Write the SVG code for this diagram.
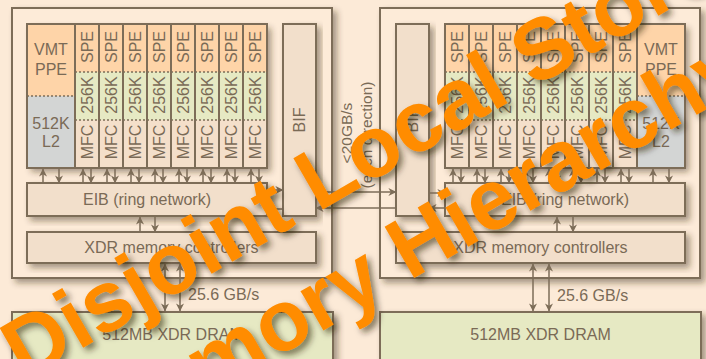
<svg xmlns="http://www.w3.org/2000/svg" width="706" height="359" viewBox="0 0 706 359">
<defs>
<style>
.bx{stroke:#7d6d58;stroke-width:2}
.ln{stroke:#7d6d58;stroke-width:1.5;fill:none}
.dt{stroke:#7d6d58;stroke-width:1.5;stroke-dasharray:2 2}
.t{font-family:"Liberation Sans",Arial,sans-serif;font-size:16px;fill:#7a6a56;text-anchor:middle}
.or{fill:#fed4a8}.gr{fill:#e6e9c3}.be{fill:#f4dfca}.l2{fill:#d3d5d4}.pl{fill:#f2dfcb}.ch{fill:#fdebd8}
.wm{font-family:"Liberation Sans",Arial,sans-serif;font-size:86px;font-weight:bold;fill:#ff8c00;text-anchor:middle}
</style>
<filter id="sh" x="-10%" y="-10%" width="130%" height="140%"><feDropShadow dx="4" dy="4" stdDeviation="3" flood-color="#3b2a14" flood-opacity="0.45"/></filter>
<filter id="tsh" x="-10%" y="-10%" width="130%" height="140%"><feDropShadow dx="4" dy="4" stdDeviation="3" flood-color="#2a1a05" flood-opacity="0.55"/></filter>
<marker id="ah" viewBox="0 0 10 10" refX="9.5" refY="5" markerWidth="8" markerHeight="8" markerUnits="userSpaceOnUse" orient="auto-start-reverse"><path d="M0,0 L10,5 L0,10 L3,5 z" fill="#7d6d58"/></marker>
</defs>
<rect width="706" height="359" fill="#fcead7"/>

<!-- LEFT CHIP -->
<g id="chipL"><rect class="bx ch" x="12" y="8" width="320" height="270" filter="url(#sh)"/></g>
<rect x="27" y="24" width="240" height="144" fill="#f4dfca" filter="url(#sh)"/>
<g id="ppeL">
<rect class="or" x="27" y="24" width="48" height="72"/><rect class="l2" x="27" y="96" width="48" height="72"/>
<line class="dt" x1="27" y1="96" x2="75" y2="96"/>
<rect class="bx" x="27" y="24" width="48" height="144" fill="none"/>
<text class="t" x="51" y="55">VMT</text><text class="t" x="51" y="75">PPE</text>
<text class="t" x="51" y="129">512K</text><text class="t" x="51" y="147">L2</text>
</g>
<g id="speL1"><rect class="or" x="75" y="24" width="24" height="48"/><rect class="gr" x="75" y="72" width="24" height="48"/><rect class="be" x="75" y="120" width="24" height="48"/><line class="dt" x1="75" y1="72" x2="99" y2="72"/><line class="dt" x1="75" y1="120" x2="99" y2="120"/><rect class="bx" x="75" y="24" width="24" height="144" fill="none"/><text class="t" transform="translate(93,47) rotate(-90)">SPE</text><text class="t" transform="translate(93,95) rotate(-90)">256K</text><text class="t" transform="translate(93,142) rotate(-90)">MFC</text></g>
<g id="speL2"><rect class="or" x="99" y="24" width="24" height="48"/><rect class="gr" x="99" y="72" width="24" height="48"/><rect class="be" x="99" y="120" width="24" height="48"/><line class="dt" x1="99" y1="72" x2="123" y2="72"/><line class="dt" x1="99" y1="120" x2="123" y2="120"/><rect class="bx" x="99" y="24" width="24" height="144" fill="none"/><text class="t" transform="translate(117,47) rotate(-90)">SPE</text><text class="t" transform="translate(117,95) rotate(-90)">256K</text><text class="t" transform="translate(117,142) rotate(-90)">MFC</text></g>
<g id="speL3"><rect class="or" x="123" y="24" width="24" height="48"/><rect class="gr" x="123" y="72" width="24" height="48"/><rect class="be" x="123" y="120" width="24" height="48"/><line class="dt" x1="123" y1="72" x2="147" y2="72"/><line class="dt" x1="123" y1="120" x2="147" y2="120"/><rect class="bx" x="123" y="24" width="24" height="144" fill="none"/><text class="t" transform="translate(141,47) rotate(-90)">SPE</text><text class="t" transform="translate(141,95) rotate(-90)">256K</text><text class="t" transform="translate(141,142) rotate(-90)">MFC</text></g>
<g id="speL4"><rect class="or" x="147" y="24" width="24" height="48"/><rect class="gr" x="147" y="72" width="24" height="48"/><rect class="be" x="147" y="120" width="24" height="48"/><line class="dt" x1="147" y1="72" x2="171" y2="72"/><line class="dt" x1="147" y1="120" x2="171" y2="120"/><rect class="bx" x="147" y="24" width="24" height="144" fill="none"/><text class="t" transform="translate(165,47) rotate(-90)">SPE</text><text class="t" transform="translate(165,95) rotate(-90)">256K</text><text class="t" transform="translate(165,142) rotate(-90)">MFC</text></g>
<g id="speL5"><rect class="or" x="171" y="24" width="24" height="48"/><rect class="gr" x="171" y="72" width="24" height="48"/><rect class="be" x="171" y="120" width="24" height="48"/><line class="dt" x1="171" y1="72" x2="195" y2="72"/><line class="dt" x1="171" y1="120" x2="195" y2="120"/><rect class="bx" x="171" y="24" width="24" height="144" fill="none"/><text class="t" transform="translate(189,47) rotate(-90)">SPE</text><text class="t" transform="translate(189,95) rotate(-90)">256K</text><text class="t" transform="translate(189,142) rotate(-90)">MFC</text></g>
<g id="speL6"><rect class="or" x="195" y="24" width="24" height="48"/><rect class="gr" x="195" y="72" width="24" height="48"/><rect class="be" x="195" y="120" width="24" height="48"/><line class="dt" x1="195" y1="72" x2="219" y2="72"/><line class="dt" x1="195" y1="120" x2="219" y2="120"/><rect class="bx" x="195" y="24" width="24" height="144" fill="none"/><text class="t" transform="translate(213,47) rotate(-90)">SPE</text><text class="t" transform="translate(213,95) rotate(-90)">256K</text><text class="t" transform="translate(213,142) rotate(-90)">MFC</text></g>
<g id="speL7"><rect class="or" x="219" y="24" width="24" height="48"/><rect class="gr" x="219" y="72" width="24" height="48"/><rect class="be" x="219" y="120" width="24" height="48"/><line class="dt" x1="219" y1="72" x2="243" y2="72"/><line class="dt" x1="219" y1="120" x2="243" y2="120"/><rect class="bx" x="219" y="24" width="24" height="144" fill="none"/><text class="t" transform="translate(237,47) rotate(-90)">SPE</text><text class="t" transform="translate(237,95) rotate(-90)">256K</text><text class="t" transform="translate(237,142) rotate(-90)">MFC</text></g>
<g id="speL8"><rect class="or" x="243" y="24" width="24" height="48"/><rect class="gr" x="243" y="72" width="24" height="48"/><rect class="be" x="243" y="120" width="24" height="48"/><line class="dt" x1="243" y1="72" x2="267" y2="72"/><line class="dt" x1="243" y1="120" x2="267" y2="120"/><rect class="bx" x="243" y="24" width="24" height="144" fill="none"/><text class="t" transform="translate(261,47) rotate(-90)">SPE</text><text class="t" transform="translate(261,95) rotate(-90)">256K</text><text class="t" transform="translate(261,142) rotate(-90)">MFC</text></g>
<g id="bifL"><rect class="bx pl" x="283" y="24" width="33" height="192" filter="url(#sh)"/><text class="t" transform="translate(305,120) rotate(-90)">BIF</text></g>
<g id="eibL"><rect class="bx pl" x="27" y="183" width="240" height="33" filter="url(#sh)"/><text class="t" x="147" y="205">EIB (ring network)</text></g>
<g id="xdrL"><rect class="bx pl" x="27" y="232" width="289" height="31" filter="url(#sh)"/><text class="t" x="171.5" y="253">XDR memory controllers</text></g>
<g id="dramL"><rect class="bx gr" x="12" y="312" width="321" height="60" filter="url(#sh)"/><text class="t" x="172.5" y="340">512MB XDR DRAM</text></g>

<!-- RIGHT CHIP -->
<g id="chipR"><rect class="bx ch" x="380" y="8" width="320" height="270" filter="url(#sh)"/></g>
<rect x="445" y="24" width="240" height="144" fill="#f4dfca" filter="url(#sh)"/>
<g id="speR1"><rect class="or" x="445" y="24" width="24" height="48"/><rect class="gr" x="445" y="72" width="24" height="48"/><rect class="be" x="445" y="120" width="24" height="48"/><line class="dt" x1="445" y1="72" x2="469" y2="72"/><line class="dt" x1="445" y1="120" x2="469" y2="120"/><rect class="bx" x="445" y="24" width="24" height="144" fill="none"/><text class="t" transform="translate(463,47) rotate(-90)">SPE</text><text class="t" transform="translate(463,95) rotate(-90)">256K</text><text class="t" transform="translate(463,142) rotate(-90)">MFC</text></g>
<g id="speR2"><rect class="or" x="469" y="24" width="24" height="48"/><rect class="gr" x="469" y="72" width="24" height="48"/><rect class="be" x="469" y="120" width="24" height="48"/><line class="dt" x1="469" y1="72" x2="493" y2="72"/><line class="dt" x1="469" y1="120" x2="493" y2="120"/><rect class="bx" x="469" y="24" width="24" height="144" fill="none"/><text class="t" transform="translate(487,47) rotate(-90)">SPE</text><text class="t" transform="translate(487,95) rotate(-90)">256K</text><text class="t" transform="translate(487,142) rotate(-90)">MFC</text></g>
<g id="speR3"><rect class="or" x="493" y="24" width="24" height="48"/><rect class="gr" x="493" y="72" width="24" height="48"/><rect class="be" x="493" y="120" width="24" height="48"/><line class="dt" x1="493" y1="72" x2="517" y2="72"/><line class="dt" x1="493" y1="120" x2="517" y2="120"/><rect class="bx" x="493" y="24" width="24" height="144" fill="none"/><text class="t" transform="translate(511,47) rotate(-90)">SPE</text><text class="t" transform="translate(511,95) rotate(-90)">256K</text><text class="t" transform="translate(511,142) rotate(-90)">MFC</text></g>
<g id="speR4"><rect class="or" x="517" y="24" width="24" height="48"/><rect class="gr" x="517" y="72" width="24" height="48"/><rect class="be" x="517" y="120" width="24" height="48"/><line class="dt" x1="517" y1="72" x2="541" y2="72"/><line class="dt" x1="517" y1="120" x2="541" y2="120"/><rect class="bx" x="517" y="24" width="24" height="144" fill="none"/><text class="t" transform="translate(535,47) rotate(-90)">SPE</text><text class="t" transform="translate(535,95) rotate(-90)">256K</text><text class="t" transform="translate(535,142) rotate(-90)">MFC</text></g>
<g id="speR5"><rect class="or" x="541" y="24" width="24" height="48"/><rect class="gr" x="541" y="72" width="24" height="48"/><rect class="be" x="541" y="120" width="24" height="48"/><line class="dt" x1="541" y1="72" x2="565" y2="72"/><line class="dt" x1="541" y1="120" x2="565" y2="120"/><rect class="bx" x="541" y="24" width="24" height="144" fill="none"/><text class="t" transform="translate(559,47) rotate(-90)">SPE</text><text class="t" transform="translate(559,95) rotate(-90)">256K</text><text class="t" transform="translate(559,142) rotate(-90)">MFC</text></g>
<g id="speR6"><rect class="or" x="565" y="24" width="24" height="48"/><rect class="gr" x="565" y="72" width="24" height="48"/><rect class="be" x="565" y="120" width="24" height="48"/><line class="dt" x1="565" y1="72" x2="589" y2="72"/><line class="dt" x1="565" y1="120" x2="589" y2="120"/><rect class="bx" x="565" y="24" width="24" height="144" fill="none"/><text class="t" transform="translate(583,47) rotate(-90)">SPE</text><text class="t" transform="translate(583,95) rotate(-90)">256K</text><text class="t" transform="translate(583,142) rotate(-90)">MFC</text></g>
<g id="speR7"><rect class="or" x="589" y="24" width="24" height="48"/><rect class="gr" x="589" y="72" width="24" height="48"/><rect class="be" x="589" y="120" width="24" height="48"/><line class="dt" x1="589" y1="72" x2="613" y2="72"/><line class="dt" x1="589" y1="120" x2="613" y2="120"/><rect class="bx" x="589" y="24" width="24" height="144" fill="none"/><text class="t" transform="translate(607,47) rotate(-90)">SPE</text><text class="t" transform="translate(607,95) rotate(-90)">256K</text><text class="t" transform="translate(607,142) rotate(-90)">MFC</text></g>
<g id="speR8"><rect class="or" x="613" y="24" width="24" height="48"/><rect class="gr" x="613" y="72" width="24" height="48"/><rect class="be" x="613" y="120" width="24" height="48"/><line class="dt" x1="613" y1="72" x2="637" y2="72"/><line class="dt" x1="613" y1="120" x2="637" y2="120"/><rect class="bx" x="613" y="24" width="24" height="144" fill="none"/><text class="t" transform="translate(631,47) rotate(-90)">SPE</text><text class="t" transform="translate(631,95) rotate(-90)">256K</text><text class="t" transform="translate(631,142) rotate(-90)">MFC</text></g>
<g id="ppeR">
<rect class="or" x="637" y="24" width="48" height="72"/><rect class="l2" x="637" y="96" width="48" height="72"/>
<line class="dt" x1="637" y1="96" x2="685" y2="96"/>
<rect class="bx" x="637" y="24" width="48" height="144" fill="none"/>
<text class="t" x="661" y="55">VMT</text><text class="t" x="661" y="75">PPE</text>
<text class="t" x="661" y="129">512K</text><text class="t" x="661" y="147">L2</text>
</g>
<g id="bifR"><rect class="bx pl" x="396" y="24" width="33" height="192" filter="url(#sh)"/><text class="t" transform="translate(418,120) rotate(-90)">BIF</text></g>
<g id="eibR"><rect class="bx pl" x="445" y="183" width="240" height="33" filter="url(#sh)"/><text class="t" x="565" y="205">EIB (ring network)</text></g>
<g id="xdrR"><rect class="bx pl" x="396" y="232" width="289" height="31" filter="url(#sh)"/><text class="t" x="540.5" y="253">XDR memory controllers</text></g>
<g id="dramR"><rect class="bx gr" x="380" y="312" width="321" height="60" filter="url(#sh)"/><text class="t" x="540.5" y="340">512MB XDR DRAM</text></g>

<!-- CONNECTORS -->
<g id="connectors" class="ln">
<line x1="43" y1="183" x2="43" y2="169" marker-end="url(#ah)"/><line x1="59" y1="169" x2="59" y2="183" marker-end="url(#ah)"/>
<line x1="83" y1="183" x2="83" y2="169" marker-end="url(#ah)"/><line x1="91" y1="169" x2="91" y2="183" marker-end="url(#ah)"/>
<line x1="107" y1="183" x2="107" y2="169" marker-end="url(#ah)"/><line x1="115" y1="169" x2="115" y2="183" marker-end="url(#ah)"/>
<line x1="131" y1="183" x2="131" y2="169" marker-end="url(#ah)"/><line x1="139" y1="169" x2="139" y2="183" marker-end="url(#ah)"/>
<line x1="155" y1="183" x2="155" y2="169" marker-end="url(#ah)"/><line x1="163" y1="169" x2="163" y2="183" marker-end="url(#ah)"/>
<line x1="179" y1="183" x2="179" y2="169" marker-end="url(#ah)"/><line x1="187" y1="169" x2="187" y2="183" marker-end="url(#ah)"/>
<line x1="203" y1="183" x2="203" y2="169" marker-end="url(#ah)"/><line x1="211" y1="169" x2="211" y2="183" marker-end="url(#ah)"/>
<line x1="227" y1="183" x2="227" y2="169" marker-end="url(#ah)"/><line x1="235" y1="169" x2="235" y2="183" marker-end="url(#ah)"/>
<line x1="251" y1="183" x2="251" y2="169" marker-end="url(#ah)"/><line x1="259" y1="169" x2="259" y2="183" marker-end="url(#ah)"/>
<line x1="267" y1="190" x2="283" y2="190" marker-end="url(#ah)"/><line x1="283" y1="209" x2="267" y2="209" marker-end="url(#ah)"/>
<line x1="140" y1="232" x2="140" y2="217" marker-end="url(#ah)"/><line x1="155" y1="217" x2="155" y2="232" marker-end="url(#ah)"/>
<line x1="165" y1="264" x2="165" y2="311" marker-start="url(#ah)" marker-end="url(#ah)"/><line x1="180" y1="264" x2="180" y2="311" marker-start="url(#ah)" marker-end="url(#ah)"/>
<line x1="316" y1="192" x2="396" y2="192" marker-end="url(#ah)"/><line x1="396" y1="208" x2="316" y2="208" marker-end="url(#ah)"/>
<line x1="429" y1="193" x2="445" y2="193" marker-end="url(#ah)"/><line x1="445" y1="208" x2="429" y2="208" marker-end="url(#ah)"/>
<line x1="453" y1="183" x2="453" y2="169" marker-end="url(#ah)"/><line x1="461" y1="169" x2="461" y2="183" marker-end="url(#ah)"/>
<line x1="477" y1="183" x2="477" y2="169" marker-end="url(#ah)"/><line x1="485" y1="169" x2="485" y2="183" marker-end="url(#ah)"/>
<line x1="501" y1="183" x2="501" y2="169" marker-end="url(#ah)"/><line x1="509" y1="169" x2="509" y2="183" marker-end="url(#ah)"/>
<line x1="525" y1="183" x2="525" y2="169" marker-end="url(#ah)"/><line x1="533" y1="169" x2="533" y2="183" marker-end="url(#ah)"/>
<line x1="549" y1="183" x2="549" y2="169" marker-end="url(#ah)"/><line x1="557" y1="169" x2="557" y2="183" marker-end="url(#ah)"/>
<line x1="573" y1="183" x2="573" y2="169" marker-end="url(#ah)"/><line x1="581" y1="169" x2="581" y2="183" marker-end="url(#ah)"/>
<line x1="597" y1="183" x2="597" y2="169" marker-end="url(#ah)"/><line x1="605" y1="169" x2="605" y2="183" marker-end="url(#ah)"/>
<line x1="621" y1="183" x2="621" y2="169" marker-end="url(#ah)"/><line x1="629" y1="169" x2="629" y2="183" marker-end="url(#ah)"/>
<line x1="653" y1="183" x2="653" y2="169" marker-end="url(#ah)"/><line x1="669" y1="169" x2="669" y2="183" marker-end="url(#ah)"/>
<line x1="557" y1="232" x2="557" y2="217" marker-end="url(#ah)"/><line x1="573" y1="217" x2="573" y2="232" marker-end="url(#ah)"/>
<line x1="533" y1="264" x2="533" y2="311" marker-start="url(#ah)" marker-end="url(#ah)"/><line x1="549" y1="264" x2="549" y2="311" marker-start="url(#ah)" marker-end="url(#ah)"/>
</g>
<g id="labels">
<text class="t" x="188" y="300" style="text-anchor:start">25.6 GB/s</text>
<text class="t" x="557" y="301" style="text-anchor:start">25.6 GB/s</text>
<text class="t" style="font-size:15.5px" transform="translate(352,133) rotate(-90)">&lt;20GB/s</text>
<text class="t" style="font-size:15.5px" transform="translate(372,135) rotate(-90)">(each direction)</text>
</g>

<g id="watermark" filter="url(#tsh)">
<text class="wm" transform="translate(374,180) rotate(-30)">Disjoint Local Store</text>
<text class="wm" transform="translate(428,270) rotate(-30)">Memory Hierarchy</text>
</g>
</svg>
